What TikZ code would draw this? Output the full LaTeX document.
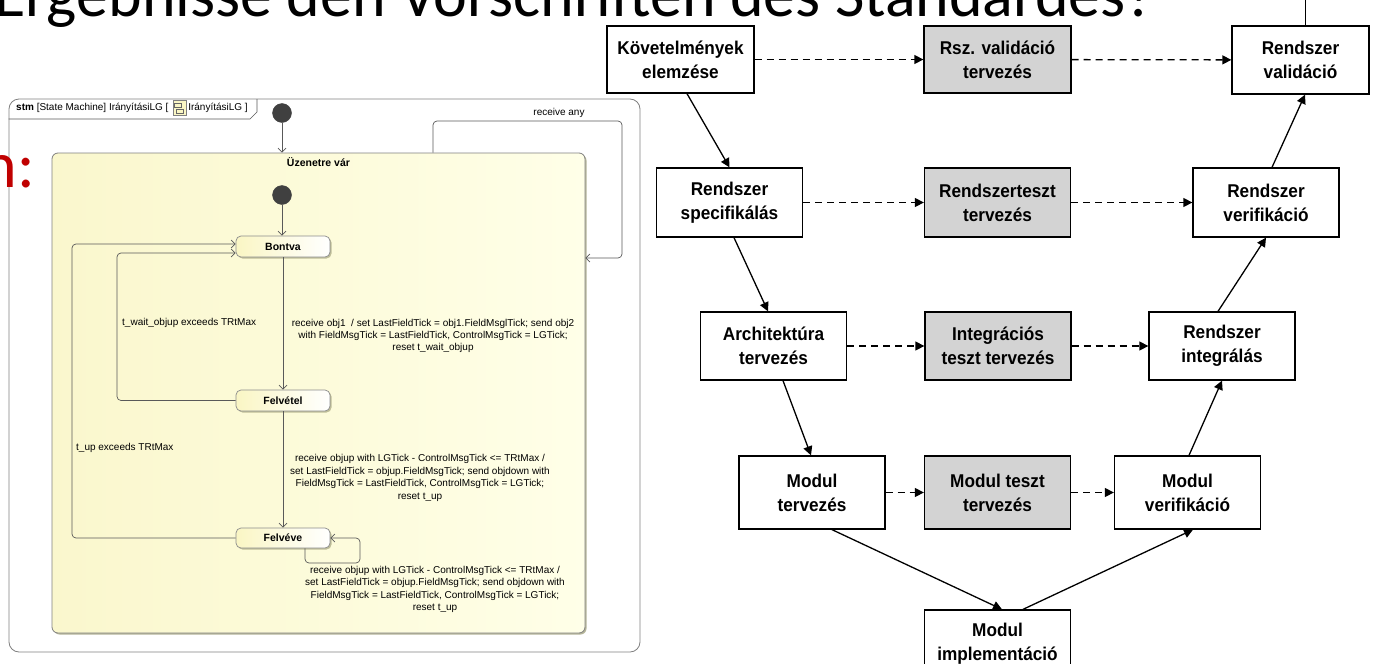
\documentclass[tikz,border=0pt]{standalone}
\usepackage{fontspec}
\setmainfont{Liberation Sans}
\newfontfamily\vfont[FakeStretch=0.93]{Liberation Sans}
\newfontfamily\smfont{Liberation Sans}
\newfontfamily\titlefont{Carlito}
\usetikzlibrary{arrows.meta,shadows,positioning,calc}
\definecolor{redc}{RGB}{192,0,0}
\definecolor{stY}{RGB}{250,246,196}
\definecolor{compL}{RGB}{250,247,205}
\definecolor{compR}{RGB}{255,255,232}
\definecolor{shC}{RGB}{150,150,110}
\definecolor{initC}{RGB}{64,64,64}
\definecolor{boxG}{RGB}{211,211,211}
\begin{document}
\begin{tikzpicture}[x=1pt,y=-1pt,
  stmline/.style={draw=black!65, line width=0.7pt},
  tr/.style={stmline, -{Straight Barb[length=4pt,width=8pt]}},
  stmstate/.style={draw=black!45, line width=0.7pt, rounded corners=5pt, left color=stY, right color=white,
     minimum width=94pt, minimum height=20pt, inner sep=0pt,
     font=\smfont\bfseries\fontsize{10.5}{12}\selectfont,
     drop shadow={shadow xshift=1.5pt, shadow yshift=-1.5pt, fill=shC, opacity=0.6}},
  initst/.style={circle, fill=initC, draw=initC, minimum size=19pt, inner sep=0pt},
  lbl/.style={font=\smfont\fontsize{10}{12.4}\selectfont, align=center, inner sep=0pt},
  vbox/.style={draw=black, line width=1.3pt, minimum width=146pt, minimum height=68pt, inner sep=0pt,
     align=center, font=\vfont\bfseries\fontsize{18.5}{24}\selectfont},
  gbox/.style={vbox, fill=boxG},
  varr/.style={line width=1.3pt, -{Triangle[length=9pt,width=9pt]}},
  darr/.style={varr, dash pattern=on 7pt off 5pt},
]
\useasboundingbox (0,0) rectangle (1374,664);
\clip (0,0) rectangle (1374,664);

% ---------- title (cut off at the top) ----------
\node[anchor=base west, inner sep=0pt, font=\titlefont\fontsize{64}{64}\selectfont] (title) at (-6,16)
  {Ergebnisse den Vorschriften des Standardes?};

% ---------- state machine diagram ----------
\node[draw=black!50, line width=0.8pt, rounded corners=10pt, fill=white,
      minimum width=631pt, minimum height=553pt, inner sep=0pt] (frame) at (324.5,375.5) {};
\node[anchor=base east, inner sep=0pt, text=redc, font=\titlefont\fontsize{66}{66}\selectfont] (red) at (35,187) {n:};

% tab
\node[anchor=west, inner sep=0pt, font=\smfont\fontsize{10}{12}\selectfont] (tab1) at (16,108)
  {\textbf{stm} [State Machine] IrányításiLG [};
\node[right=4pt of tab1, draw=black!50, fill=stY, minimum width=13pt, minimum height=15pt, inner sep=0pt] (icon) {};
\draw[black!60, line width=0.5pt] ($(icon.north west)+(2,3)$) rectangle ($(icon.north west)+(9,7)$);
\draw[black!60, line width=0.5pt] ($(icon.north west)+(4,9)$) rectangle ($(icon.north west)+(11,13)$);
\node[right=2pt of icon, inner sep=0pt, font=\smfont\fontsize{10}{12}\selectfont] (tab2) {IrányításiLG ]};
\draw[stmline] (frame.west |- 0,119) -- (250,119) -- (257,112) -- (257,99);

% composite state
\node[draw=black!50, line width=0.8pt, rounded corners=6pt, left color=compL, right color=compR,
      minimum width=533pt, minimum height=480pt, inner sep=0pt,
      drop shadow={shadow xshift=1.5pt, shadow yshift=-1.5pt, fill=shC, opacity=0.7}] (uz) at (318.5,393) {};
\node[font=\smfont\bfseries\fontsize{10.5}{12}\selectfont, inner sep=0pt] (uzl) at (318.5,162) {Üzenetre vár};

\node[initst] (init1) at (282,113) {};
\node[initst] (init2) at (282,195) {};
\node[stmstate, minimum height=21pt] (bontva) at (283,246.5) {Bontva};
\node[stmstate, minimum height=21pt] (felvetel) at (283,400.5) {Felvétel};
\node[stmstate] (felveve) at (283,538) {Felvéve};

\draw[tr] (init1) -- (init1 |- uz.north);
\draw[tr] (init2) -- (init2 |- bontva.north);
\draw[tr] (bontva) -- (felvetel);
\draw[tr] (felvetel) -- (felveve);
\draw[tr, rounded corners=4pt] (felvetel.west) -- (117,400.5) -- (117,253) -- (bontva.west |- 0,253);
\draw[tr, rounded corners=4pt] (felveve.west) -- (72,538) -- (72,244) -- (bontva.west |- 0,244);
\draw[tr, rounded corners=4pt] (433,0 |- uz.north) -- (433,121) -- (622,121) -- (622,258) -- (uz.east |- 0,258);
\draw[tr, rounded corners=4pt] (305,0 |- felveve.south) -- (305,563) -- (360,563) -- (360,538) -- (felveve.east |- 0,538);

\node[lbl] (lany) at (559,113) {receive any};
\node[lbl] (la) at (433,336) {receive obj1~~/ set LastFieldTick = obj1.FieldMsglTick; send obj2\\
  with FieldMsgTick = LastFieldTick, ControlMsgTick = LGTick;\\ reset t\_wait\_objup};
\node[lbl] (lb) at (420,478) {receive objup with LGTick - ControlMsgTick <= TRtMax /\\
  set LastFieldTick = objup.FieldMsgTick; send objdown with\\
  FieldMsgTick = LastFieldTick, ControlMsgTick = LGTick;\\ reset t\_up};
\node[lbl] (lc) at (435,589.5) {receive objup with LGTick - ControlMsgTick <= TRtMax /\\
  set LastFieldTick = objup.FieldMsgTick; send objdown with\\
  FieldMsgTick = LastFieldTick, ControlMsgTick = LGTick;\\ reset t\_up};
\node[lbl, anchor=west] (lw) at (122,323) {t\_wait\_objup exceeds TRtMax};
\node[lbl, anchor=west] (lu) at (76,448) {t\_up exceeds TRtMax};

% ---------- V-model ----------
\node[vbox, minimum width=147pt, minimum height=67pt] (K) at (680.5,59.5) {Követelmények\\elemzése};
\node[gbox, minimum width=147pt, minimum height=67pt] (RszV) at (997.5,59.5) {Rsz. validáció\\tervezés};
\node[vbox, minimum width=137pt] (RV) at (1300.5,60) {Rendszer\\validáció};
\node[vbox, minimum height=69pt] (RS) at (729.5,202.5) {Rendszer\\specifikálás};
\node[gbox, minimum height=69pt] (RT) at (997.5,202.5) {Rendszerteszt\\tervezés};
\node[vbox, minimum height=69pt] (RVer) at (1266,202.5) {Rendszer\\verifikáció};
\node[vbox] (AT) at (773.5,346) {Architektúra\\tervezés};
\node[gbox] (IT) at (998,346) {Integrációs\\teszt tervezés};
\node[vbox] (RI) at (1222,346) {Rendszer\\integrálás};
\node[vbox, minimum height=73pt] (MT) at (812,492.5) {Modul\\tervezés};
\node[gbox, minimum height=73pt] (MTT) at (997.5,492.5) {Modul teszt\\tervezés};
\node[vbox, minimum height=73pt] (MV) at (1187.5,492.5) {Modul\\verifikáció};
\node[vbox] (MI) at (997.5,644) {Modul\\implementáció};
\coordinate (topin) at (1305,-2);

\draw[darr] (K) -- (RszV);
\draw[darr] (RszV) -- (RV);
\draw[darr] (RS) -- (RT);
\draw[darr] (RT) -- (RVer);
\draw[darr] (AT) -- (IT);
\draw[darr] (IT) -- (RI);
\draw[darr] (MT) -- (MTT);
\draw[darr] (MTT) -- (MV);

\draw[varr] ([xshift=6.5pt]K.south) -- (RS.north);
\draw[varr] ([xshift=4.5pt]RS.south) -- ([xshift=-5.5pt]AT.north);
\draw[varr] ([xshift=9.5pt]AT.south) -- ([xshift=-1pt]MT.north);
\draw[varr] ([xshift=20pt]MT.south) -- ([xshift=4.5pt]MI.north);
\draw[varr] ([xshift=25.5pt]MI.north) -- ([xshift=5.5pt]MV.south);
\draw[varr] ([xshift=1.5pt]MV.north) -- (RI.south);
\draw[varr] ([xshift=-4pt]RI.north) -- (RVer.south);
\draw[varr] ([xshift=6pt]RVer.north) -- ([xshift=4.5pt]RV.south);
\draw[line width=1pt] (topin) -- ([xshift=4.5pt]RV.north);
\end{tikzpicture}
\end{document}
